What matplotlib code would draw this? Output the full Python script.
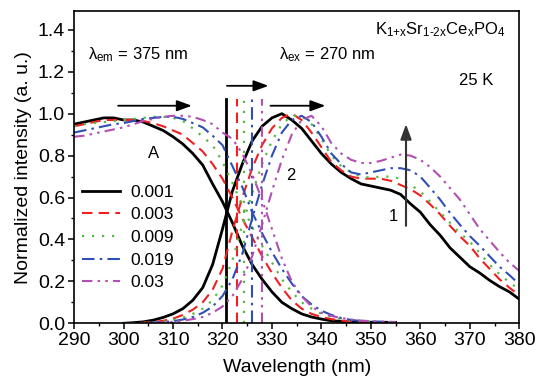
import matplotlib
matplotlib.use("Agg")
import matplotlib.pyplot as plt

FONT_FAMILY = "Liberation Sans"
plt.rcParams["font.family"] = FONT_FAMILY
plt.rcParams["mathtext.fontset"] = "custom"
plt.rcParams["mathtext.rm"] = FONT_FAMILY
plt.rcParams["mathtext.it"] = FONT_FAMILY + ":italic"

# concentrations x in K(1+x)Sr(1-2x)CexPO4
labels = ["0.001", "0.003", "0.009", "0.019", "0.03"]

# excitation spectra (lambda_em = 375 nm)
wl_ex = [290, 292, 294, 296, 298, 300, 302, 304, 306, 308, 310, 312, 314, 316,
         318, 320, 322, 324, 326, 328, 330, 332, 334, 336, 338, 340, 342, 344,
         346, 348, 350, 352, 355]
ex_001 = [0.95, 0.96, 0.97, 0.98, 0.98, 0.97, 0.97, 0.96, 0.94, 0.92, 0.89, 0.855,
          0.81, 0.755, 0.665, 0.58, 0.48, 0.37, 0.28, 0.21, 0.15, 0.10, 0.07,
          0.045, 0.03, 0.02, 0.012, 0.009, 0.007, 0.006, 0.005, 0.005, 0.004]
ex_003 = [0.94, 0.95, 0.96, 0.97, 0.97, 0.97, 0.97, 0.965, 0.955, 0.94, 0.92, 0.90,
          0.86, 0.82, 0.76, 0.69, 0.60, 0.50, 0.41, 0.32, 0.24, 0.17, 0.11,
          0.07, 0.045, 0.03, 0.02, 0.013, 0.009, 0.007, 0.006, 0.005, 0.005]
ex_009 = [0.94, 0.95, 0.955, 0.96, 0.965, 0.97, 0.975, 0.98, 0.985, 0.985, 0.98,
          0.965, 0.93, 0.89, 0.85, 0.77, 0.67, 0.56, 0.46, 0.37, 0.29, 0.21,
          0.15, 0.10, 0.07, 0.045, 0.03, 0.02, 0.013, 0.009, 0.007, 0.006, 0.005]
ex_019 = [0.91, 0.92, 0.93, 0.94, 0.95, 0.955, 0.965, 0.975, 0.98, 0.985, 0.985,
          0.975, 0.955, 0.935, 0.895, 0.85, 0.75, 0.65, 0.53, 0.43, 0.34, 0.26,
          0.19, 0.13, 0.09, 0.06, 0.04, 0.025, 0.016, 0.011, 0.008, 0.007, 0.006]
ex_03 = [0.89, 0.895, 0.905, 0.915, 0.925, 0.935, 0.95, 0.965, 0.975, 0.985, 0.99,
         0.99, 0.985, 0.97, 0.95, 0.91, 0.88, 0.81, 0.71, 0.59, 0.45, 0.31, 0.20,
         0.13, 0.08, 0.05, 0.035, 0.025, 0.018, 0.013, 0.01, 0.008, 0.006]

# emission spectra (lambda_ex = 270 nm)
wl_em = [300, 302, 304, 306, 308, 310, 312, 314, 316, 318, 320, 322, 324, 326,
         328, 330, 332, 334, 336, 338, 340, 342, 344, 346, 348, 350, 352, 354,
         356, 358, 360, 362, 364, 366, 368, 370, 372, 374, 376, 378, 380]
em_001 = [0.0, 0.003, 0.007, 0.015, 0.028, 0.045, 0.07, 0.11, 0.17, 0.28, 0.45,
          0.63, 0.76, 0.87, 0.94, 0.98, 1.0, 0.97, 0.93, 0.87, 0.81, 0.76, 0.72,
          0.69, 0.665, 0.655, 0.645, 0.635, 0.615, 0.57, 0.53, 0.47, 0.42, 0.36,
          0.315, 0.27, 0.24, 0.205, 0.175, 0.15, 0.115]
em_003 = [0.0, 0.0, 0.003, 0.006, 0.012, 0.022, 0.04, 0.065, 0.10, 0.16, 0.26,
          0.44, 0.60, 0.74, 0.85, 0.93, 0.98, 1.0, 0.97, 0.91, 0.84, 0.77, 0.73,
          0.70, 0.69, 0.69, 0.69, 0.68, 0.66, 0.64, 0.61, 0.567, 0.52, 0.465,
          0.415, 0.37, 0.31, 0.26, 0.21, 0.17, 0.133]
em_009 = [0.0, 0.0, 0.002, 0.004, 0.008, 0.015, 0.027, 0.045, 0.07, 0.11, 0.18,
          0.30, 0.47, 0.62, 0.76, 0.87, 0.95, 0.99, 0.99, 0.95, 0.88, 0.80, 0.75,
          0.72, 0.70, 0.695, 0.70, 0.70, 0.69, 0.66, 0.63, 0.58, 0.53, 0.48,
          0.43, 0.39, 0.335, 0.28, 0.235, 0.195, 0.162]
em_019 = [0.0, 0.0, 0.001, 0.003, 0.006, 0.01, 0.018, 0.03, 0.05, 0.08, 0.13,
          0.21, 0.33, 0.50, 0.66, 0.80, 0.91, 0.97, 0.99, 0.96, 0.89, 0.81, 0.76,
          0.72, 0.71, 0.72, 0.73, 0.74, 0.74, 0.73, 0.70, 0.646, 0.59, 0.527,
          0.47, 0.416, 0.37, 0.32, 0.27, 0.23, 0.186]
em_03 = [0.0, 0.0, 0.001, 0.002, 0.004, 0.007, 0.012, 0.02, 0.03, 0.05, 0.08,
         0.13, 0.21, 0.32, 0.47, 0.63, 0.78, 0.90, 0.97, 0.99, 0.94, 0.86, 0.81,
         0.78, 0.765, 0.765, 0.775, 0.79, 0.805, 0.80, 0.78, 0.745, 0.70, 0.645,
         0.59, 0.52, 0.45, 0.395, 0.34, 0.29, 0.25]

# crossing points of excitation and emission bands (vertical markers)
cross_wl = [320.7, 322.9, 324.4, 325.9, 328.0]

excitation = [ex_001, ex_003, ex_009, ex_019, ex_03]
emission = [em_001, em_003, em_009, em_019, em_03]

colors = ["black", "#f02020", "#55bb44", "#2f4fb5", "#b24fb2"]
linestyles = ["-", (0, (5, 3)), (0, (1, 3.5)), (0, (6, 2.5, 1.2, 2.5)),
              (0, (5, 2.5, 1.2, 2.5, 1.2, 2.5))]
widths = [2.0, 1.5, 1.6, 1.5, 1.5]

fig = plt.figure(figsize=(5.37, 3.79), dpi=100)
ax = fig.add_axes([0.138, 0.147, 0.829, 0.824])

for i in range(len(labels)):
    ax.plot(wl_ex, excitation[i], color=colors[i], ls=linestyles[i], lw=widths[i],
            label=labels[i])
    ax.plot(wl_em, emission[i], color=colors[i], ls=linestyles[i], lw=widths[i])
    ax.plot([cross_wl[i], cross_wl[i]], [0, 1.07], color=colors[i],
            ls=linestyles[i], lw=widths[i])

# arrows
head = "-|>,head_length=0.6,head_width=0.22"
for x0, x1, y in [(298.9, 313.8, 1.038), (320.9, 329.3, 1.133), (329.7, 340.8, 1.038)]:
    ax.annotate("", xy=(x1, y), xytext=(x0, y),
                arrowprops=dict(arrowstyle=head, color="black", lw=1.3,
                                mutation_scale=15, shrinkA=0, shrinkB=0))
ax.annotate("", xy=(357.1, 0.95), xytext=(357.1, 0.465),
            arrowprops=dict(arrowstyle=head, color="#333333", lw=1.5,
                            mutation_scale=15, shrinkA=0, shrinkB=0))

# annotations
ax.text(292.8, 1.28, r"$\mathrm{\lambda_{em}}$ = 375 nm", fontsize=12, va="center")
ax.text(331.4, 1.28, r"$\mathrm{\lambda_{ex}}$ = 270 nm", fontsize=12, va="center")
ax.text(377.3, 1.40,
        r"K$_{\text{1+x}}$Sr$_{\text{1-2x}}$Ce$_{\text{x}}$PO$_{\text{4}}$",
        fontsize=12, va="center", ha="right")
ax.text(371.2, 1.16, "25 K", fontsize=12, va="center", ha="center")
ax.text(306.1, 0.81, "A", fontsize=12, va="center", ha="center")
ax.text(333.9, 0.705, "2", fontsize=12, va="center", ha="center")
ax.text(354.6, 0.51, "1", fontsize=12, va="center", ha="center")

ax.set_xlim(290, 380)
ax.set_ylim(0, 1.49)
ax.set_xticks(range(290, 381, 10))
ax.set_xticks(range(295, 380, 10), minor=True)
ax.set_yticks([0.0, 0.2, 0.4, 0.6, 0.8, 1.0, 1.2, 1.4])
ax.set_yticks([0.1, 0.3, 0.5, 0.7, 0.9, 1.1, 1.3], minor=True)
ax.yaxis.set_major_formatter(matplotlib.ticker.FormatStrFormatter("%.1f"))
ax.tick_params(which="major", direction="out", length=4.5, width=1.1,
               labelsize=14, pad=2)
ax.tick_params(which="minor", direction="out", length=2.5, width=1.0)
for s in ax.spines.values():
    s.set_linewidth(1.2)

ax.set_xlabel("Wavelength (nm)", fontsize=14, labelpad=7)
ax.set_ylabel("Normalized intensity (a. u.)", fontsize=14, labelpad=4)

ax.legend(loc="upper left", bbox_to_anchor=(0.01, 0.455), frameon=False,
          fontsize=12.5, handlelength=2.2, handletextpad=0.6, labelspacing=0.43,
          borderaxespad=0, borderpad=0.2)

fig.savefig("out.png", dpi=100, facecolor="white")
